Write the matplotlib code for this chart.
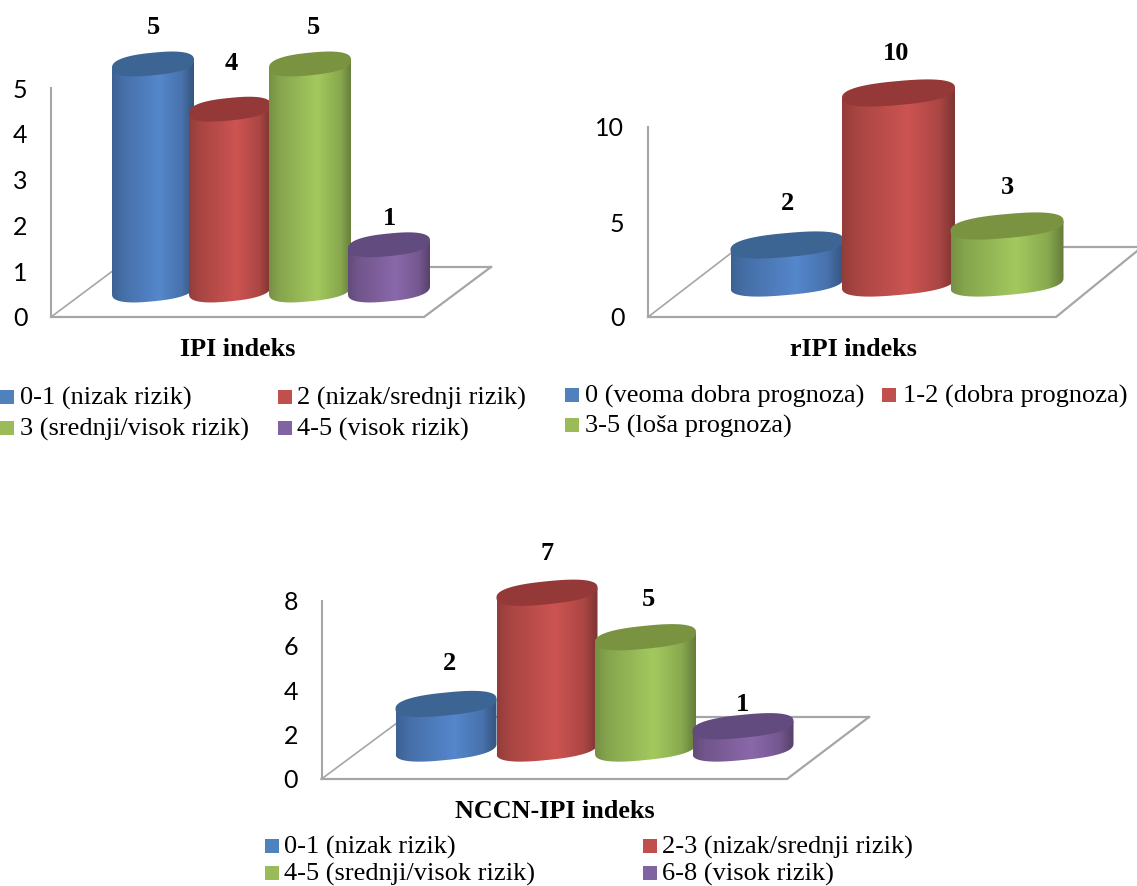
import numpy as np
import matplotlib
matplotlib.use('Agg')
import matplotlib.pyplot as plt
from matplotlib.path import Path
from matplotlib.colors import to_rgb

W, H = 1137, 886
SERIF = 'Liberation Serif'
GRAY = '#a6a6a6'

# data
ipi_labels = ['0-1 (nizak rizik)', '2 (nizak/srednji rizik)', '3 (srednji/visok rizik)', '4-5 (visok rizik)']
ipi_values = [5, 4, 5, 1]
ipi_ticks = [0, 1, 2, 3, 4, 5]

ripi_labels = ['0 (veoma dobra prognoza)', '1-2 (dobra prognoza)', '3-5 (loša prognoza)']
ripi_values = [2, 10, 3]
ripi_ticks = [0, 5, 10]

nccn_labels = ['0-1 (nizak rizik)', '2-3 (nizak/srednji rizik)', '4-5 (srednji/visok rizik)', '6-8 (visok rizik)']
nccn_values = [2, 7, 5, 1]
nccn_ticks = [0, 2, 4, 6, 8]

body_colors = ['#5587cc', '#cc5451', '#a3c95e', '#8a68aa']
cap_colors = ['#3d6594', '#943938', '#7a9340', '#624b7e']
legend_colors = ['#4f81bd', '#c0504d', '#9bbb59', '#8064a2']

fig = plt.figure(figsize=(W / 100, H / 100), dpi=100)
# pixel layer for floor lines, titles and legends
bg = fig.add_axes([0, 0, 1, 1], zorder=0)
bg.set_xlim(0, W)
bg.set_ylim(H, 0)
bg.axis('off')


def ring(t):
    # slightly fuller than a true ellipse, like the office 3d cylinders
    c, n = np.cos(t), np.sin(t)
    return np.sign(c) * np.abs(c) ** 0.8, np.sign(n) * np.abs(n) ** 0.8


def cylinder(ax, i, value, color, cap, half, base, scale, b, s, z):
    top = base + value * scale
    # gradient on the body: dark edges, light a bit right of the middle
    pos = np.linspace(0, 1, 120)
    mult = np.interp(pos, [0, 0.12, 0.58, 0.86, 1], [0.72, 0.82, 1.0, 0.84, 0.62])
    grad = (np.array(to_rgb(color))[None, :] * mult[:, None])[None, :, :]
    lo = base - b - abs(s) - 0.05 * value
    im = ax.imshow(grad, extent=[i - half, i + half, lo, top + abs(s) + 0.01],
                   aspect='auto', interpolation='bilinear', zorder=z)
    c, n = ring(np.linspace(np.pi, 2 * np.pi, 80))
    xs = i + half * c
    ys = base + b * n + s * c
    verts = [(i - half, top - s)] + list(zip(xs, ys)) + [(i + half, top + s), (i - half, top - s)]
    im.set_clip_path(Path(verts), ax.transData)
    # top ellipse
    c, n = ring(np.linspace(0, 2 * np.pi, 160))
    ax.fill(i + half * c, top + b * n + s * c, color=cap, lw=0, zorder=z + 0.5)
    return top


def chart(values, ticks, labels, title, x0, y0, ytop, tickmax, centers, width, base_px, scale,
          b_px, s_px, floor, label_off, title_xy, leg_x, leg_y, ax_right):
    ppu = (y0 - ytop) / tickmax
    step = (centers[-1] - centers[0]) / (len(values) - 1)
    view_top = 35
    ax = fig.add_axes([x0 / W, 1 - y0 / H, (ax_right - x0) / W, (y0 - view_top) / H], zorder=1)
    ax.patch.set_alpha(0)
    for k, v in enumerate(values):
        cx = (centers[k] - centers[0]) / step
        cylinder(ax, cx, v, body_colors[k], cap_colors[k], width / 2 / step, base_px / ppu, scale,
                 b_px / ppu, s_px / ppu, 2 + k)
        top = base_px / ppu + v * scale
        ax.annotate(str(v), (cx, top), xytext=(label_off[k][0] * 0.72, label_off[k][1] * 0.72),
                    textcoords='offset points', ha='center', va='center', family=SERIF,
                    weight='bold', fontsize=19, color='black', zorder=20, annotation_clip=False)
    ax.set_xlim((x0 - centers[0]) / step, (ax_right - centers[0]) / step)
    ax.set_ylim(0, (y0 - view_top) / ppu)
    ax.set_xticks([])
    ax.set_yticks(ticks)
    ax.tick_params(axis='y', length=0, pad=17, labelsize=18, labelcolor='black')
    for lb in ax.get_yticklabels():
        lb.set_family('Lato')
    for sp in ['top', 'right', 'bottom']:
        ax.spines[sp].set_visible(False)
    ax.spines['left'].set_color(GRAY)
    ax.spines['left'].set_linewidth(1.5)
    ax.spines['left'].set_bounds(0, tickmax)

    # floor
    bg.plot([x0, floor[0], floor[1]], [y0, y0, floor[2]], color=GRAY, lw=1.6, solid_joinstyle='miter')
    bg.plot([floor[1], floor[3]], [floor[2], floor[2]], color=GRAY, lw=1.6)
    bg.plot([x0, floor[3]], [y0, floor[2]], color=GRAY, lw=1.2)

    bg.text(title_xy[0], title_xy[1], title, family=SERIF, weight='bold', fontsize=18.8,
            ha='center', va='center')
    # legend (2 columns)
    for k, lab in enumerate(labels):
        sx, tx = leg_x[k % 2]
        yy = leg_y[k // 2]
        bg.fill([sx, sx + 14, sx + 14, sx], [yy - 7, yy - 7, yy + 7, yy + 7], color=legend_colors[k], lw=0)
        bg.text(tx, yy + 1.5, lab, family=SERIF, fontsize=19, ha='left', va='center')


chart(ipi_values, ipi_ticks, ipi_labels, 'IPI indeks', 51, 317, 88, 5,
      [153, 230, 310, 389], 82, 27, 0.987, 11.3, 4,
      (424, 491, 267, 118), [(0, 36), (1, 46), (3, 36), (0, 26)],
      (238, 349), [(0, 20), (278, 297)], [397, 428], 495)

chart(ripi_values, ripi_ticks, ripi_labels, 'rIPI indeks', 648, 317, 127, 10,
      [787, 898.5, 1007], 113, 34, 1.0, 12, 5,
      (1056, 1142, 247, 739), [(0, 41), (-2, 39), (0, 38)],
      (853, 349), [(565, 585), (882, 903)], [395, 425], 1137)

chart(nccn_values, nccn_ticks, nccn_labels, 'NCCN-IPI indeks', 321.5, 779, 601, 8,
      [446, 547, 645.5, 743], 101, 30.5, 1.0, 11.5, 5,
      (787, 869, 717, 405), [(4, 40), (0, 39), (3, 38), (0, 22)],
      (554.6, 811), [(265, 284), (643, 662)], [846, 873], 875)

fig.savefig('out.png', dpi=100)
